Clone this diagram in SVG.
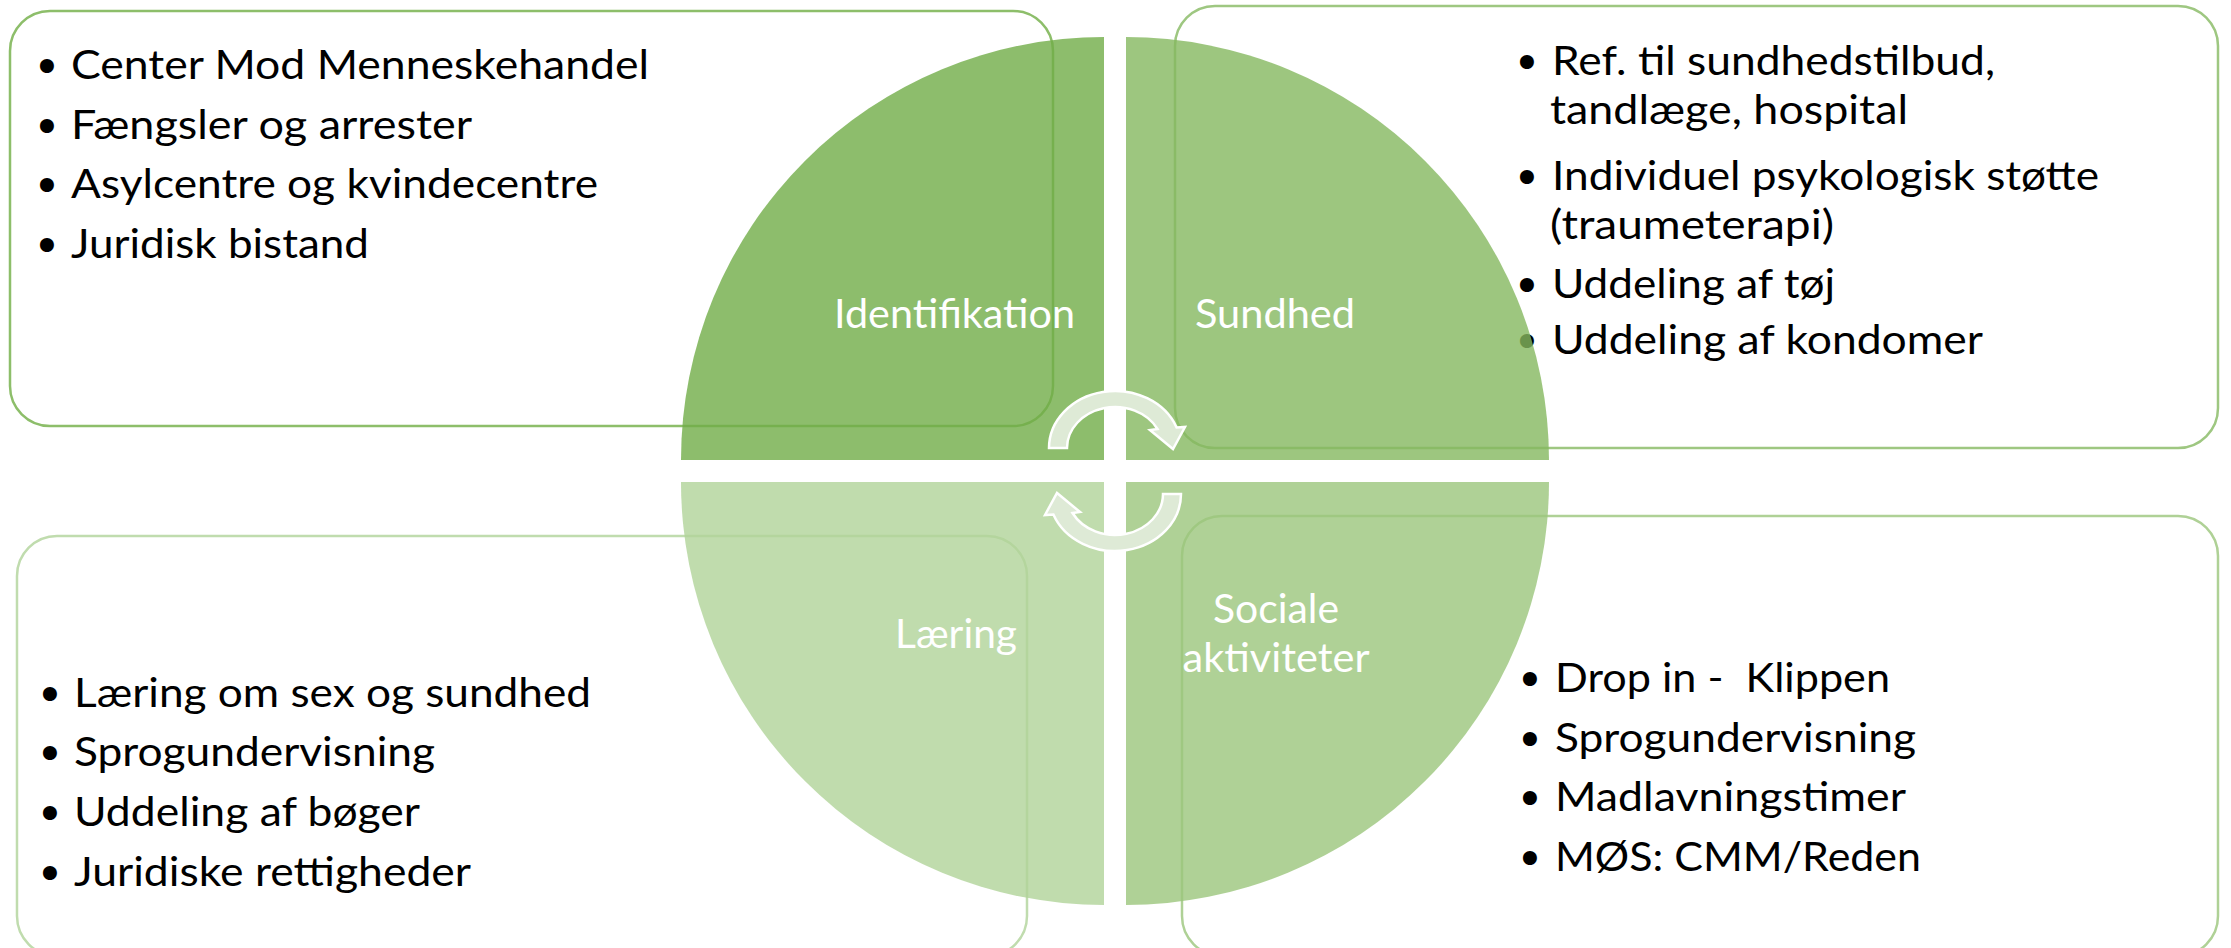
<svg xmlns="http://www.w3.org/2000/svg" width="2231" height="948" viewBox="0 0 2231 948">
<defs>
<style>
.box{fill:#ffffff;stroke-width:2.5}
.item{font-family:Lato,"Open Sans",sans-serif;font-size:40px;fill:#000000}
.bul{font-family:"DejaVu Sans",sans-serif;font-size:48px;fill:#000000;text-anchor:middle}
.lbl{font-family:Lato,"Open Sans",sans-serif;font-size:40px;fill:#ffffff}
.mid{text-anchor:middle}
.q{fill-opacity:0.8}
.arr{fill:#DEEAD6;stroke:#ffffff;stroke-width:2.5;stroke-linejoin:miter}
</style>
<path id="arrow" d="M 1049 448 A 66 57 0 0 1 1176.6 427.5 L 1185 427 L 1173 449 L 1150 430 L 1157.5 429 A 48 41 0 0 0 1067 448 Z"/>
</defs>
<rect width="2231" height="948" fill="#ffffff"/>

<g id="node-identifikation">
<rect class="box" x="10" y="11" width="1043" height="415" rx="40" stroke="#8DBE6A"/>
<text class="bul" x="47" y="84">•</text>
<text class="item" x="71" y="79" textLength="578" lengthAdjust="spacingAndGlyphs">Center Mod Menneskehandel</text>
<text class="bul" x="47" y="144">•</text>
<text class="item" x="71" y="139" textLength="401" lengthAdjust="spacingAndGlyphs">Fængsler og arrester</text>
<text class="bul" x="47" y="203">•</text>
<text class="item" x="71" y="198" textLength="527" lengthAdjust="spacingAndGlyphs">Asylcentre og kvindecentre</text>
<text class="bul" x="47" y="263">•</text>
<text class="item" x="71" y="258" textLength="298" lengthAdjust="spacingAndGlyphs">Juridisk bistand</text>
<path class="q" d="M 1104 460 L 681 460 A 423 423 0 0 1 1104 37 Z" fill="#70AD47"/>
<text class="lbl" x="834" y="328" textLength="241" lengthAdjust="spacingAndGlyphs">Identifikation</text>
</g>

<g id="node-sundhed">
<rect class="box" x="1175" y="6" width="1043" height="442" rx="40" stroke="#9EC781"/>
<text class="bul" x="1527" y="80">•</text>
<text class="item"><tspan x="1552" y="75" textLength="443" lengthAdjust="spacingAndGlyphs">Ref. til sundhedstilbud,</tspan><tspan x="1550" y="124" textLength="358" lengthAdjust="spacingAndGlyphs">tandlæge, hospital</tspan></text>
<text class="bul" x="1527" y="195">•</text>
<text class="item"><tspan x="1552" y="190" textLength="547" lengthAdjust="spacingAndGlyphs">Individuel psykologisk støtte</tspan><tspan x="1550" y="239" textLength="284" lengthAdjust="spacingAndGlyphs">(traumeterapi)</tspan></text>
<text class="bul" x="1527" y="303">•</text>
<text class="item" x="1552" y="298" textLength="283" lengthAdjust="spacingAndGlyphs">Uddeling af tøj</text>
<text class="bul" x="1527" y="359">•</text>
<text class="item" x="1552" y="354" textLength="431" lengthAdjust="spacingAndGlyphs">Uddeling af kondomer</text>
<path class="q" d="M 1126 460 L 1126 37 A 423 423 0 0 1 1549 460 Z" fill="#84B85F"/>
<text class="lbl" x="1195" y="328" textLength="160" lengthAdjust="spacingAndGlyphs">Sundhed</text>
</g>

<g id="node-laering">
<rect class="box" x="17" y="536" width="1010" height="420" rx="40" stroke="#C0DCAE"/>
<text class="bul" x="50" y="712">•</text>
<text class="item" x="74" y="707" textLength="517" lengthAdjust="spacingAndGlyphs">Læring om sex og sundhed</text>
<text class="bul" x="50" y="771">•</text>
<text class="item" x="74" y="766" textLength="361" lengthAdjust="spacingAndGlyphs">Sprogundervisning</text>
<text class="bul" x="50" y="831">•</text>
<text class="item" x="74" y="826" textLength="346" lengthAdjust="spacingAndGlyphs">Uddeling af bøger</text>
<text class="bul" x="50" y="891">•</text>
<text class="item" x="74" y="886" textLength="397" lengthAdjust="spacingAndGlyphs">Juridiske rettigheder</text>
<path class="q" d="M 1104 482 L 1104 905 A 423 423 0 0 1 681 482 Z" fill="#B0D398"/>
<text class="lbl" x="895" y="648" textLength="122" lengthAdjust="spacingAndGlyphs">Læring</text>
</g>

<g id="node-sociale">
<rect class="box" x="1182" y="516" width="1036" height="440" rx="40" stroke="#AFD196"/>
<text class="bul" x="1530" y="697">•</text>
<text class="item" x="1555" y="692" textLength="335" lengthAdjust="spacingAndGlyphs" xml:space="preserve">Drop in -  Klippen</text>
<text class="bul" x="1530" y="757">•</text>
<text class="item" x="1555" y="752" textLength="361" lengthAdjust="spacingAndGlyphs">Sprogundervisning</text>
<text class="bul" x="1530" y="816">•</text>
<text class="item" x="1555" y="811" textLength="351" lengthAdjust="spacingAndGlyphs">Madlavningstimer</text>
<text class="bul" x="1530" y="876">•</text>
<text class="item" x="1555" y="871" textLength="366" lengthAdjust="spacingAndGlyphs">MØS: CMM/Reden</text>
<path class="q" d="M 1126 482 L 1549 482 A 423 423 0 0 1 1126 905 Z" fill="#9BC57C"/>
<text class="lbl mid"><tspan x="1276" y="623" textLength="126" lengthAdjust="spacingAndGlyphs">Sociale</tspan><tspan x="1276" y="672" textLength="187" lengthAdjust="spacingAndGlyphs">aktiviteter</tspan></text>
</g>

<g id="connectors">
<use href="#arrow" class="arr"/>
<use href="#arrow" class="arr" transform="rotate(180 1115 471)"/>
</g>
</svg>
